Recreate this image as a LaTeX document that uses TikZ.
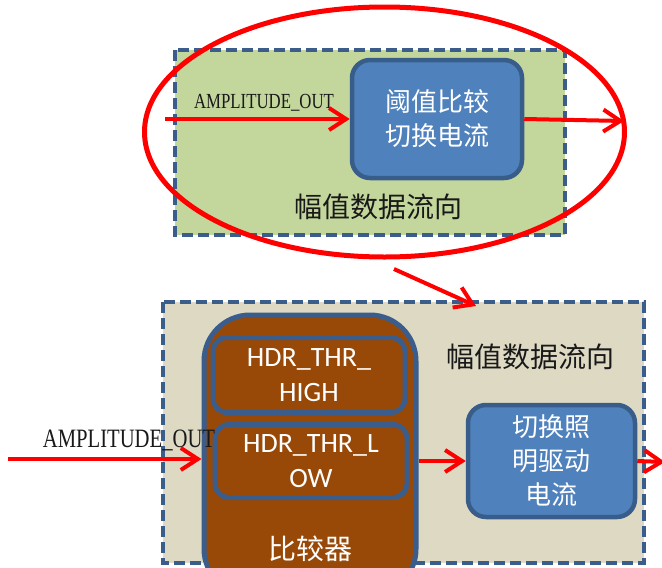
\documentclass[tikz,border=0pt]{standalone}
\usepackage{fontspec}
\newfontfamily\cjk{Noto Sans CJK SC}
\newfontfamily\latinsans{Carlito}
\newfontfamily\ampfont[FakeStretch=0.78]{Liberation Serif}
\usetikzlibrary{arrows.meta,shapes.geometric}
\definecolor{frameblue}{HTML}{3A5D8C}
\definecolor{boxblue}{HTML}{4F81BD}
\definecolor{boxedge}{HTML}{385D8A}
\definecolor{greenfill}{HTML}{C3D69B}
\definecolor{beigefill}{HTML}{DDD9C3}
\definecolor{brownfill}{HTML}{984807}
\definecolor{flowred}{HTML}{FF0000}
\tikzset{
  groupframe/.style={draw=frameblue, line width=4.5pt, dash pattern=on 11pt off 5pt},
  procbox/.style={draw=boxedge, fill=boxblue, line width=4.5pt, rounded corners=18pt,
    text=white, align=center, font=\cjk\fontsize{26}{34}\selectfont, inner sep=0pt},
  cmpbox/.style={draw=frameblue, fill=brownfill, line width=5pt, rounded corners=46pt, inner sep=0pt},
  thrbox/.style={draw=frameblue, fill=brownfill, line width=5pt, rounded corners=14pt,
    text=white, align=center, font=\latinsans\fontsize{28}{35}\selectfont, inner sep=0pt},
  grouplabel/.style={text=black!90, font=\cjk\fontsize{28}{34}\selectfont, inner sep=0pt},
  siglabel/.style={text=black!90, inner sep=0pt},
  flow/.style={draw=flowred, line width=4pt, -{Straight Barb[length=17pt,width=22pt]}},
}
\begin{document}
\begin{tikzpicture}[x=1pt,y=-1pt]
\useasboundingbox (0,0) rectangle (662,568);
\clip (0,0) rectangle (662,568);

% upper group: amplitude data path
\path[fill=greenfill] (175,50) rectangle (565,235);
\draw[groupframe] (175,50) rectangle (565,235);
\node[grouplabel] (toplabel) at (378,207) {幅值数据流向};
\node[procbox, minimum width=170pt, minimum height=118pt] (thr) at (437,119) {阈值比较\\切换电流};
\node[siglabel, font=\ampfont\fontsize{21.5}{21.5}\selectfont] (ampA) at (264,103) {AMPLITUDE\_OUT};
\coordinate (inA) at (165,119);
\coordinate (outA) at (624,121);
\draw[flow] (inA) -- (inA -| thr.west);
\draw[flow] (thr.east) -- (outA);

% lower group: comparator and driver
\path[fill=beigefill] (163,302) rectangle (644,563);
\draw[groupframe] (163,302) rectangle (644,563);
\node[grouplabel] (botlabel) at (530,357) {幅值数据流向};
\node[cmpbox, minimum width=212pt, minimum height=280pt] (cmp) at (310,455) {};
\node[thrbox, minimum width=192pt, minimum height=75pt] (high) at (309,375) {HDR\_THR\_\\HIGH};
\node[thrbox, minimum width=192pt, minimum height=73pt] (low) at (311,461) {HDR\_THR\_L\\OW};
\node[text=white, font=\cjk\fontsize{28}{34}\selectfont, inner sep=0pt] (cmpname) at (310,549) {比较器};
\node[procbox, minimum width=167pt, minimum height=112pt] (drv) at (551.5,461) {切换照\\明驱动\\电流};
\node[siglabel, font=\ampfont\fontsize{26.5}{26.5}\selectfont] (ampB) at (129,440) {AMPLITUDE\_OUT};
\coordinate (inB) at (8,459);
\coordinate (outB) at (665,462);
\draw[flow] (inB) -- (inB -| cmp.west);
\draw[flow] (cmp.east |- drv.west) -- (drv.west);
\draw[flow] (drv.east) -- (outB);

% highlight ring and link between the groups
\node[draw=flowred, line width=5pt, ellipse, minimum width=480pt, minimum height=250pt, inner sep=0pt] (ring) at (384.5,132) {};
\coordinate (linkA) at (394,269);
\coordinate (linkB) at (476,306);
\draw[flow] (linkA) -- (linkB);
\end{tikzpicture}
\end{document}
